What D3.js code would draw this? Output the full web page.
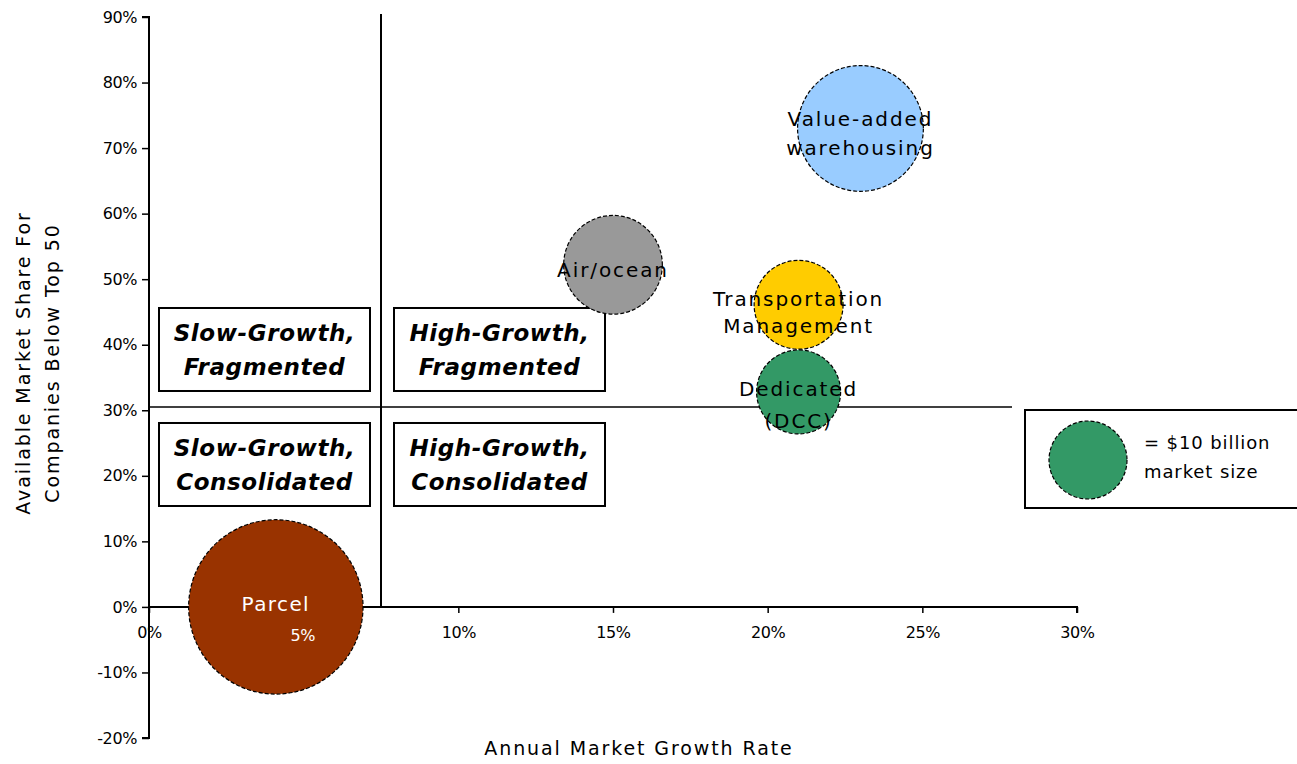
<!DOCTYPE html>
<html>
<head>
<meta charset="utf-8">
<script src="https://cdn.jsdelivr.net/npm/d3@7"></script>
<style>
  body { margin: 0; background: #fff; }
  svg text { font-family: "DejaVu Sans", Verdana, sans-serif; }
</style>
</head>
<body>
<div id="chart"></div>
<script>
// ---- data ----
const segments   = ["Value-added warehousing", "Air/ocean", "Transportation Management", "Dedicated (DCC)", "Parcel"];
const labelLines = [["Value-added", "warehousing"], ["Air/ocean"], ["Transportation", "Management"], ["Dedicated", "(DCC)"], ["Parcel", "5%"]];
const growth     = [0.23, 0.15, 0.21, 0.21, 0.041];   // annual market growth rate
const share      = [0.73, 0.522, 0.461, 0.328, 0.0];  // share below top 50
const marketSize = [26, 16, 13, 11.6, 50];            // $ billion
const colors     = ["#99ccff", "#999999", "#ffcc00", "#339966", "#993300"];
const labelColor = ["#000", "#000", "#000", "#000", "#fff"];

const xTicks = [0, 0.05, 0.10, 0.15, 0.20, 0.25, 0.30];
const yTicks = [-0.2, -0.1, 0, 0.1, 0.2, 0.3, 0.4, 0.5, 0.6, 0.7, 0.8, 0.9];

const xDivide = 0.075;
const yDivide = 0.305;
const quadrants = [
  ["Slow-Growth,", "Fragmented"],
  ["High-Growth,", "Fragmented"],
  ["Slow-Growth,", "Consolidated"],
  ["High-Growth,", "Consolidated"]
];
const legendSize = 10;

// ---- layout ----
const W = 1297, H = 764;
const svg = d3.select("#chart").append("svg")
  .attr("width", W).attr("height", H);

const x = d3.scaleLinear().domain([0, 0.3]).range([149, 1077]);
const y = d3.scaleLinear().domain([-0.2, 0.9]).range([738, 17]);
const r = d3.scaleSqrt().domain([0, 10]).range([0, 39]);

// y axis
const yAxis = d3.axisLeft(y).tickValues(yTicks).tickSize(7)
  .tickFormat(d => Math.round(d * 100) + "%");
const gy = svg.append("g").attr("transform", "translate(" + x(0) + ",0)").call(yAxis);
gy.select(".domain").attr("stroke", "#000").attr("stroke-width", 2)
  .attr("d", "M-7," + y(0.9) + "H0V" + y(-0.2) + "H-7");
gy.selectAll(".tick line").attr("stroke-width", 1.5);
gy.selectAll(".tick text").attr("font-size", 16).attr("letter-spacing", -0.4)
  .attr("x", -12).attr("fill", "#000");

// x axis at 0%
const xAxis = d3.axisBottom(x).tickValues(xTicks).tickSize(6)
  .tickFormat(d => Math.round(d * 100) + "%");
const gx = svg.append("g").attr("transform", "translate(0," + y(0) + ")").call(xAxis);
gx.select(".domain").attr("stroke-width", 2).attr("d", "M" + x(0) + ",0H" + x(0.3) + "V6");
gx.selectAll(".tick line").attr("stroke-width", 1.5);
gx.selectAll(".tick text").attr("font-size", 16).attr("letter-spacing", -0.4)
  .attr("y", 20).attr("fill", "#000");

// quadrant dividers
svg.append("line")
  .attr("x1", x(xDivide)).attr("x2", x(xDivide))
  .attr("y1", 14).attr("y2", y(0))
  .attr("stroke", "#000").attr("stroke-width", 2);
svg.append("line")
  .attr("x1", x(0)).attr("x2", x(0.279))
  .attr("y1", y(yDivide)).attr("y2", y(yDivide))
  .attr("stroke", "#000").attr("stroke-width", 1.5);

// quadrant label boxes
const boxW = 211, boxH = 83;
const boxLeft = [x(xDivide) - 222, x(xDivide) + 13];
const boxTop = [y(yDivide) - 99, y(yDivide) + 16];
quadrants.forEach((lines, i) => {
  const bx = boxLeft[i % 2], by = boxTop[Math.floor(i / 2)];
  const g = svg.append("g").attr("transform", "translate(" + bx + "," + by + ")");
  g.append("rect").attr("width", boxW).attr("height", boxH)
    .attr("fill", "#fff").attr("stroke", "#000").attr("stroke-width", 2);
  lines.forEach((t, j) => {
    g.append("text")
      .attr("x", boxW / 2).attr("y", 33 + j * 34)
      .attr("text-anchor", "middle")
      .attr("font-size", 23).attr("font-weight", "bold").attr("font-style", "italic")
      .attr("letter-spacing", 0.6)
      .text(t);
  });
});

// bubbles
const bubbles = segments.map((s, i) => ({
  name: s, lines: labelLines[i], gx: growth[i], sh: share[i],
  size: marketSize[i], color: colors[i], lc: labelColor[i]
}));

svg.append("g").selectAll("circle")
  .data(bubbles)
  .join("circle")
  .attr("cx", d => x(d.gx))
  .attr("cy", d => y(d.sh))
  .attr("r", d => r(d.size))
  .attr("fill", d => d.color)
  .attr("stroke", "#000").attr("stroke-width", 1.2)
  .attr("stroke-dasharray", "4,2");

// bubble labels: [dx, dy of block centre, line gap]
const labelPos = {
  "Value-added warehousing": [0, 5, 28.5],
  "Air/ocean": [0, 5, 0],
  "Transportation Management": [0, 8, 27.5],
  "Dedicated (DCC)": [0, 13, 32],
  "Parcel": [0, 12, 29.5]
};
bubbles.forEach(d => {
  const cx = x(d.gx), cy = y(d.sh);
  const p = labelPos[d.name];
  const n = d.lines.length;
  d.lines.forEach((t, j) => {
    const small = d.name === "Parcel" && j === 1;
    svg.append("text")
      .attr("x", small ? cx + 27 : cx + p[0])
      .attr("y", cy + p[1] + (j - (n - 1) / 2) * p[2] + 7)
      .attr("text-anchor", "middle")
      .attr("font-size", small ? 16 : 20)
      .attr("letter-spacing", small ? -0.4 : (d.name === "Parcel" ? 1.4 : 1.9))
      .attr("fill", d.lc)
      .text(t);
  });
});

// legend
const lg = svg.append("g").attr("transform", "translate(1025,410)");
lg.append("rect").attr("width", 280).attr("height", 98)
  .attr("fill", "#fff").attr("stroke", "#000").attr("stroke-width", 2);
lg.append("circle").attr("cx", 63).attr("cy", 50).attr("r", r(legendSize))
  .attr("fill", colors[3]).attr("stroke", "#000").attr("stroke-width", 1.2)
  .attr("stroke-dasharray", "4,2");
lg.append("text").attr("x", 119).attr("y", 39).attr("font-size", 18)
  .attr("letter-spacing", 0.9).text("= $10 billion");
lg.append("text").attr("x", 119).attr("y", 68).attr("font-size", 18)
  .attr("letter-spacing", 0.9).text("market size");

// axis titles
svg.append("text")
  .attr("x", 639).attr("y", 755)
  .attr("text-anchor", "middle")
  .attr("font-size", 19).attr("letter-spacing", 1.9)
  .text("Annual Market Growth Rate");

const yt = svg.append("text")
  .attr("transform", "translate(0,363) rotate(-90)")
  .attr("text-anchor", "middle")
  .attr("font-size", 19).attr("letter-spacing", 1.9);
yt.append("tspan").attr("x", 0).attr("y", 30).text("Available Market Share For");
yt.append("tspan").attr("x", 0).attr("y", 59).text("Companies Below Top 50");
</script>
</body>
</html>
